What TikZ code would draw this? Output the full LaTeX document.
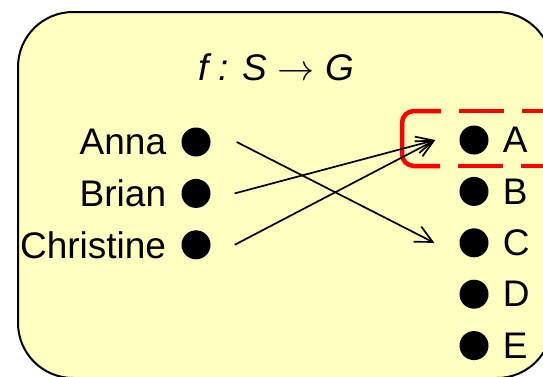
\documentclass[tikz,border=0pt]{standalone}
\usepackage{fontspec}
\setmainfont{Liberation Sans}
\newfontfamily\arrowfont{latinmodern-math.otf}
\usetikzlibrary{arrows.meta, positioning, calc}
\definecolor{boxyellow}{RGB}{255,255,192}
\definecolor{hlred}{RGB}{255,0,0}

\begin{document}
\begin{tikzpicture}[x=1pt, y=1pt,
    dot/.style={circle, fill=black, inner sep=0pt, minimum size=29pt},
    lbl/.style={inner sep=0pt, font=\fontsize{37}{40}\selectfont},
    map/.style={-{Straight Barb[length=17pt, width=17pt]}, line width=1.7pt},
    hl/.style={draw=hlred, line width=4.5pt},
]
\clip (0,0) rectangle (543,-376);

% Set box
\draw[fill=boxyellow, line width=2pt, rounded corners=55pt] (18,-12) rectangle (552,-378);

% Title
\node[lbl, anchor=base] (title) at (276,-80) {\itshape f : S {\arrowfont →} G};

% Highlight of A
\draw[hl, rounded corners=12pt] (441,-111) -| (402,-166) -- (440,-166);
\draw[hl, dash pattern=on 45pt off 18pt, dash phase=45pt] (441,-111) -- (560,-111);
\draw[hl, dash pattern=on 45pt off 18pt, dash phase=45pt] (440,-166) -- (560,-166);

% Domain S
\node[dot] (anna) at (196,-142) {};
\node[dot, below=22pt of anna] (brian) {};
\node[dot, below=22pt of brian] (christine) {};
\node[lbl, left=15pt of anna] (annaL) {Anna};
\node[lbl, left=15pt of brian] (brianL) {Brian};
\node[lbl, left=15pt of christine] (christineL) {Christine};

% Codomain G
\node[dot] (a) at (474,-140) {};
\node[dot, below=22pt of a] (b) {};
\node[dot, below=22pt of b] (c) {};
\node[dot, below=22pt of c] (d) {};
\node[dot, below=22pt of d] (e) {};
\node[lbl, right=14pt of a] (aL) {A};
\node[lbl, right=14pt of b] (bL) {B};
\node[lbl, right=14pt of c] (cL) {C};
\node[lbl, right=14pt of d] (dL) {D};
\node[lbl, right=14pt of e] (eL) {E};

% Mapping
\draw[map] ([xshift=26pt]anna.east) -- ([xshift=-25pt]c.west);
\draw[map] ([xshift=24pt]brian.east) -- ([xshift=-24pt]a.west);
\draw[map] ([xshift=24pt]christine.east) -- ([xshift=-24pt]a.west);
\end{tikzpicture}
\end{document}
